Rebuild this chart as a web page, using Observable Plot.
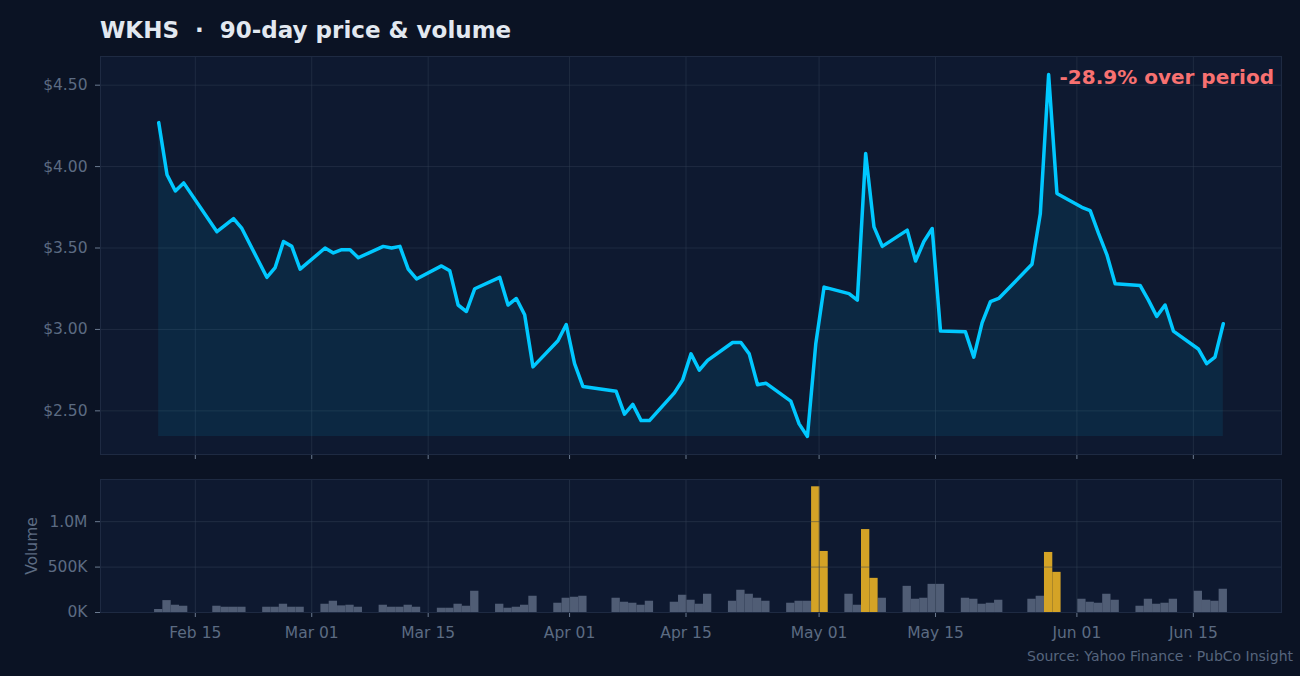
<!DOCTYPE html>
<html>
<head>
<meta charset="utf-8">
<script src="https://cdn.jsdelivr.net/npm/d3@7"></script>
<script src="https://cdn.jsdelivr.net/npm/@observablehq/plot@0.6"></script>
<style>
  html, body { margin: 0; padding: 0; background: #0b1324; }
  #chart { position: relative; width: 1300px; height: 676px; overflow: hidden; font-family: "DejaVu Sans", sans-serif; background: #0b1324; }
  #title { position: absolute; left: 100px; top: 17px; font-size: 23px; font-weight: bold; color: #e2e8f0; white-space: pre; line-height: normal; }
  #price { position: absolute; left: 0; top: 50px; }
  #volume { position: absolute; left: 0; top: 466px; }
  #caption { position: absolute; right: 7px; top: 648px; font-size: 14px; color: #56657d; line-height: normal; }
</style>
</head>
<body>
<div id="chart">
  <div id="title">WKHS  ·  90-day price &amp; volume</div>
  <div id="price"></div>
  <div id="volume"></div>
  <div id="caption">Source: Yahoo Finance · PubCo Insight</div>
</div>
<script>
// ---- data ----
const dates = [
  "2025-02-11","2025-02-12","2025-02-13","2025-02-14",
  "2025-02-18","2025-02-19","2025-02-20","2025-02-21",
  "2025-02-24","2025-02-25","2025-02-26","2025-02-27","2025-02-28",
  "2025-03-03","2025-03-04","2025-03-05","2025-03-06","2025-03-07",
  "2025-03-10","2025-03-11","2025-03-12","2025-03-13","2025-03-14",
  "2025-03-17","2025-03-18","2025-03-19","2025-03-20","2025-03-21",
  "2025-03-24","2025-03-25","2025-03-26","2025-03-27","2025-03-28",
  "2025-03-31","2025-04-01","2025-04-02","2025-04-03",
  "2025-04-07","2025-04-08","2025-04-09","2025-04-10","2025-04-11",
  "2025-04-14","2025-04-15","2025-04-16","2025-04-17","2025-04-18",
  "2025-04-21","2025-04-22","2025-04-23","2025-04-24","2025-04-25",
  "2025-04-28","2025-04-29","2025-04-30","2025-05-01","2025-05-02",
  "2025-05-05","2025-05-06","2025-05-07","2025-05-08","2025-05-09",
  "2025-05-12","2025-05-13","2025-05-14","2025-05-15","2025-05-16",
  "2025-05-19","2025-05-20","2025-05-21","2025-05-22","2025-05-23",
  "2025-05-27","2025-05-28","2025-05-29","2025-05-30",
  "2025-06-02","2025-06-03","2025-06-04","2025-06-05","2025-06-06",
  "2025-06-09","2025-06-10","2025-06-11","2025-06-12","2025-06-13",
  "2025-06-16","2025-06-17","2025-06-18","2025-06-19"
];
const closePrices = [
  4.27, 3.95, 3.85, 3.90,
  3.60, 3.64, 3.68, 3.62,
  3.32, 3.38, 3.54, 3.51, 3.37,
  3.50, 3.47, 3.49, 3.49, 3.44,
  3.51, 3.50, 3.51, 3.37, 3.31,
  3.39, 3.36, 3.15, 3.11, 3.25,
  3.32, 3.15, 3.19, 3.09, 2.77,
  2.93, 3.03, 2.79, 2.65,
  2.62, 2.48, 2.54, 2.44, 2.44,
  2.61, 2.69, 2.85, 2.75, 2.81,
  2.92, 2.92, 2.85, 2.66, 2.67,
  2.56, 2.42, 2.343, 2.91, 3.26,
  3.22, 3.18, 4.08, 3.63, 3.51,
  3.61, 3.42, 3.54, 3.62, 2.99,
  2.985, 2.83, 3.04, 3.17, 3.19,
  3.40, 3.71, 4.565, 3.835,
  3.75, 3.73, 3.59, 3.46, 3.28,
  3.27, 3.18, 3.08, 3.15, 2.99,
  2.88, 2.79, 2.83, 3.035
];
const volumes = [
  33000, 131000, 80000, 69000,
  69000, 58000, 58000, 58000,
  58000, 58000, 91000, 58000, 58000,
  91000, 124000, 73000, 80000, 58000,
  80000, 58000, 58000, 80000, 58000,
  47000, 47000, 91000, 69000, 234000,
  91000, 47000, 58000, 80000, 179000,
  102000, 157000, 168000, 179000,
  157000, 113000, 102000, 80000, 124000,
  113000, 190000, 135000, 91000, 201000,
  124000, 245000, 201000, 157000, 124000,
  102000, 124000, 124000, 1384000, 672000,
  201000, 80000, 913000, 376000, 157000,
  288000, 146000, 157000, 310000, 310000,
  157000, 146000, 91000, 102000, 135000,
  146000, 179000, 661000, 442000,
  146000, 113000, 102000, 201000, 135000,
  69000, 146000, 91000, 102000, 146000,
  234000, 135000, 124000, 256000
];
const xTickDates = ["2025-02-15","2025-03-01","2025-03-15","2025-04-01","2025-04-15","2025-05-01","2025-05-15","2025-06-01","2025-06-15"];
const priceTicks = [2.5, 3.0, 3.5, 4.0, 4.5];
const volumeTicks = [0, 500000, 1000000];
const spikeThreshold = 350000;

// ---- styling constants ----
const DAY = 864e5;
const SHIFT = -0.4 * DAY;          // placement of a session relative to its calendar date
const C = {
  panel: "#0e1930", frame: "#1e2a42", grid: "#334155",
  text: "#5c6b82", tick: "#6b7a90",
  line: "#00c8ff", gray: "#505d75", gold: "#d4a326", red: "#f87171"
};
const FONT = {fontFamily: "DejaVu Sans, sans-serif", fontSize: "15.5px", color: C.text, background: "transparent", overflow: "visible"};

const rows = dates.map((d, i) => ({
  date: new Date(Date.parse(d + "T00:00:00Z") + SHIFT),
  price: closePrices[i],
  volume: volumes[i]
}));
const tickDates = xTickDates.map(s => new Date(s + "T00:00:00Z"));
const xDomain = [new Date(+rows[0].date - 7 * DAY), new Date(+rows[rows.length - 1].date + 7 * DAY)];

const pMin = d3.min(closePrices), pMax = d3.max(closePrices);
const pPad = (pMax - pMin) * 0.05;
const change = (closePrices[closePrices.length - 1] / closePrices[0] - 1) * 100;
const changeLabel = `${change.toFixed(1)}% over period`;

const pricePlot = Plot.plot({
  width: 1300, height: 416,
  marginLeft: 100, marginRight: 19, marginTop: 6, marginBottom: 12,
  style: FONT,
  x: {type: "utc", domain: xDomain},
  y: {domain: [pMin - pPad, pMax + pPad]},
  marks: [
    Plot.frame({fill: C.panel, stroke: null}),
    Plot.gridX(tickDates, {stroke: C.grid, strokeOpacity: 0.45}),
    Plot.gridY(priceTicks, {stroke: C.grid, strokeOpacity: 0.45}),
    Plot.areaY(rows, {x: "date", y1: pMin, y2: "price", fill: C.line, fillOpacity: 0.09}),
    Plot.lineY(rows, {x: "date", y: "price", stroke: C.line, strokeWidth: 3.5, strokeLinejoin: "round"}),
    Plot.axisX(tickDates, {tickSize: 5, tickFormat: () => "", stroke: C.tick, label: null}),
    Plot.axisY(priceTicks, {tickSize: 5, tickPadding: 8, tickFormat: v => "$" + v.toFixed(2), stroke: C.tick, fill: C.text, label: null}),
    Plot.frame({stroke: C.frame}),
    Plot.text([changeLabel], {frameAnchor: "top-right", textAnchor: "end", lineAnchor: "top", dx: -7.5, dy: 13, fontSize: 20, fontWeight: "bold", fill: C.red})
  ]
});
document.getElementById("price").append(pricePlot);

const vMax = d3.max(volumes);
const fmtVol = v => v >= 1e6 ? (v / 1e6).toFixed(1) + "M" : (v / 1e3).toFixed(0) + "K";
const barX1 = d => new Date(+d.date - DAY / 2);
const barX2 = d => new Date(+d.date + DAY / 2);

const volumePlot = Plot.plot({
  width: 1300, height: 180,
  marginLeft: 100, marginRight: 19, marginTop: 13, marginBottom: 34,
  style: FONT,
  x: {type: "utc", domain: xDomain},
  y: {domain: [0, vMax * 1.058]},
  marks: [
    Plot.frame({fill: C.panel, stroke: null}),
    Plot.rectY(rows.filter(d => d.volume <= spikeThreshold), {x1: barX1, x2: barX2, y: "volume", fill: C.gray}),
    Plot.rectY(rows.filter(d => d.volume > spikeThreshold), {x1: barX1, x2: barX2, y: "volume", fill: C.gold}),
    Plot.gridX(tickDates, {stroke: C.grid, strokeOpacity: 0.5}),
    Plot.gridY(volumeTicks, {stroke: C.grid, strokeOpacity: 0.5}),
    Plot.axisX(tickDates, {tickSize: 5, tickPadding: 9, tickFormat: d3.utcFormat("%b %d"), stroke: C.tick, fill: C.text, label: null}),
    Plot.axisY(volumeTicks, {tickSize: 5, tickPadding: 8, tickFormat: fmtVol, stroke: C.tick, fill: C.text,
      label: "Volume", labelAnchor: "center", labelOffset: 75, labelArrow: "none"}),
    Plot.frame({stroke: C.frame})
  ]
});
document.getElementById("volume").append(volumePlot);
</script>
</body>
</html>
